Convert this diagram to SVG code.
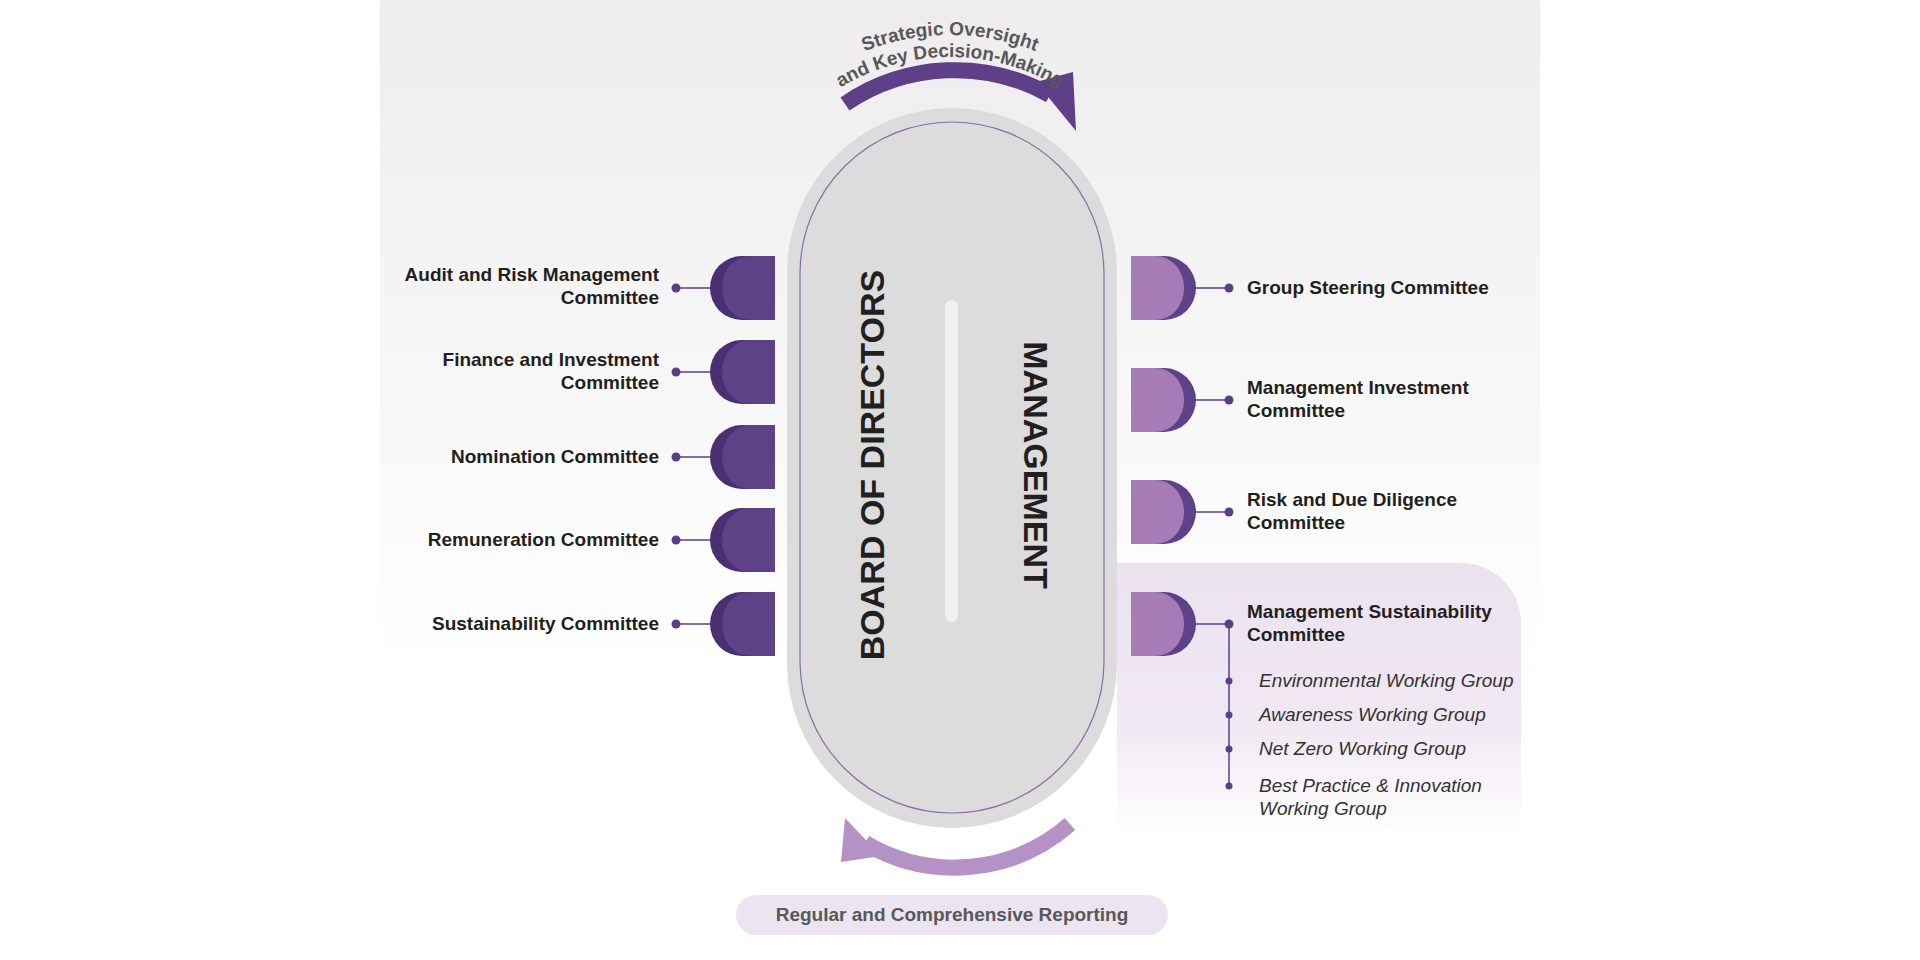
<svg xmlns="http://www.w3.org/2000/svg" width="1920" height="960" viewBox="0 0 1920 960">
<defs>
<linearGradient id="bg" x1="0" y1="0" x2="0" y2="1"><stop offset="0" stop-color="#eeecec"/><stop offset="1" stop-color="#ffffff"/></linearGradient>
<linearGradient id="sub" x1="0" y1="0" x2="0" y2="1"><stop offset="0" stop-color="#ebe2f0"/><stop offset="0.6" stop-color="#f0e8f3"/><stop offset="1" stop-color="#ffffff"/></linearGradient>
<path id="arc1" d="M 717,268 A 233,233 0 0 1 1183,268"/>
<path id="arc2" d="M 739,268 A 211,211 0 0 1 1161,268"/>
<style>
.l{font-family:"Liberation Sans",Arial,sans-serif;font-weight:bold;font-size:19px;fill:#231f20}
.s{font-family:"Liberation Sans",Arial,sans-serif;font-style:italic;font-size:19px;fill:#333}
.g{font-family:"Liberation Sans",Arial,sans-serif;font-weight:bold;font-size:19px;fill:#58585a}
.big{font-family:"Liberation Sans",Arial,sans-serif;font-weight:bold;font-size:34px;fill:#231f20}
.ln{stroke:#5b3f86;stroke-width:1.5}
.dt{fill:#5b3f86}
</style>
</defs>
<rect x="380" y="0" width="1160" height="670" fill="url(#bg)"/>
<path d="M1117,563 H1461 A60,60 0 0 1 1521,623 V833 H1117 Z" fill="url(#sub)"/>
<g id="table">
<rect x="787" y="108" width="330" height="720" rx="165" fill="#dcdcdc"/>
<rect x="800" y="122" width="304" height="691" rx="152" fill="#dcdcdc" stroke="#8e6ca3" stroke-width="1.2"/>
<rect x="945" y="300" width="13" height="322" rx="6.5" fill="#f2f0f0"/>
<text class="big" transform="translate(884,465) rotate(-90)" text-anchor="middle">BOARD OF DIRECTORS</text>
<text class="big" transform="translate(1024,465) rotate(90)" text-anchor="middle">MANAGEMENT</text>
</g>
<g id="top-arrow">
<path d="M 845,104 A 195,195 0 0 1 1050,95" fill="none" stroke="#5e3f88" stroke-width="16"/>
<path d="M 1036,82 L 1073,72 L 1076,131 Z" fill="#5e3f88"/>
<text class="g"><textPath href="#arc1" startOffset="50%" text-anchor="middle">Strategic Oversight</textPath></text>
<text class="g"><textPath href="#arc2" startOffset="50%" text-anchor="middle">and Key Decision-Making</textPath></text>
</g>
<g id="bottom-arrow">
<path d="M 1070,824 A 175,175 0 0 1 865,843" fill="none" stroke="#b592c5" stroke-width="16"/>
<path d="M 881,856 L 841,862 L 845,818 Z" fill="#b592c5"/>
</g>
<g id="reporting">
<rect x="736" y="895" width="432" height="40" rx="20" fill="#ece4f0"/>
<text class="g" x="952" y="921" text-anchor="middle">Regular and Comprehensive Reporting</text>
</g>
<g id="connectors">
<line class="ln" x1="676" y1="288" x2="715" y2="288"/><circle class="dt" cx="676" cy="288" r="4.5"/>
<line class="ln" x1="676" y1="372" x2="715" y2="372"/><circle class="dt" cx="676" cy="372" r="4.5"/>
<line class="ln" x1="676" y1="457" x2="715" y2="457"/><circle class="dt" cx="676" cy="457" r="4.5"/>
<line class="ln" x1="676" y1="540" x2="715" y2="540"/><circle class="dt" cx="676" cy="540" r="4.5"/>
<line class="ln" x1="676" y1="624" x2="715" y2="624"/><circle class="dt" cx="676" cy="624" r="4.5"/>
<line class="ln" x1="1190" y1="288" x2="1229" y2="288"/><circle class="dt" cx="1229" cy="288" r="4.5"/>
<line class="ln" x1="1190" y1="400" x2="1229" y2="400"/><circle class="dt" cx="1229" cy="400" r="4.5"/>
<line class="ln" x1="1190" y1="512" x2="1229" y2="512"/><circle class="dt" cx="1229" cy="512" r="4.5"/>
<line class="ln" x1="1190" y1="624" x2="1229" y2="624"/><circle class="dt" cx="1229" cy="624" r="4.5"/>
<line class="ln" x1="1229" y1="624" x2="1229" y2="786"/>
<circle class="dt" cx="1229" cy="681" r="3.5"/><circle class="dt" cx="1229" cy="715" r="3.5"/><circle class="dt" cx="1229" cy="749" r="3.5"/><circle class="dt" cx="1229" cy="786" r="3.5"/>
</g>
<g id="left-tabs">
<g id="t-audit"><path d="M775,256 H742 A32,32 0 0 0 742,320 H775 Z" fill="#4a2f72"/><path d="M775,256 H750 A28,32 0 0 0 750,320 H775 Z" fill="#5e4287"/></g>
<g id="t-fin"><path d="M775,340 H742 A32,32 0 0 0 742,404 H775 Z" fill="#4a2f72"/><path d="M775,340 H750 A28,32 0 0 0 750,404 H775 Z" fill="#5e4287"/></g>
<g id="t-nom"><path d="M775,425 H742 A32,32 0 0 0 742,489 H775 Z" fill="#4a2f72"/><path d="M775,425 H750 A28,32 0 0 0 750,489 H775 Z" fill="#5e4287"/></g>
<g id="t-rem"><path d="M775,508 H742 A32,32 0 0 0 742,572 H775 Z" fill="#4a2f72"/><path d="M775,508 H750 A28,32 0 0 0 750,572 H775 Z" fill="#5e4287"/></g>
<g id="t-sus"><path d="M775,592 H742 A32,32 0 0 0 742,656 H775 Z" fill="#4a2f72"/><path d="M775,592 H750 A28,32 0 0 0 750,656 H775 Z" fill="#5e4287"/></g>
</g>
<g id="right-tabs">
<g id="t-gsc"><path d="M1131,256 H1164 A32,32 0 0 1 1164,320 H1131 Z" fill="#5e4287"/><path d="M1131,256 H1156 A28,32 0 0 1 1156,320 H1131 Z" fill="#a77bb6"/></g>
<g id="t-mic"><path d="M1131,368 H1164 A32,32 0 0 1 1164,432 H1131 Z" fill="#5e4287"/><path d="M1131,368 H1156 A28,32 0 0 1 1156,432 H1131 Z" fill="#a77bb6"/></g>
<g id="t-rdd"><path d="M1131,480 H1164 A32,32 0 0 1 1164,544 H1131 Z" fill="#5e4287"/><path d="M1131,480 H1156 A28,32 0 0 1 1156,544 H1131 Z" fill="#a77bb6"/></g>
<g id="t-msc"><path d="M1131,592 H1164 A32,32 0 0 1 1164,656 H1131 Z" fill="#5e4287"/><path d="M1131,592 H1156 A28,32 0 0 1 1156,656 H1131 Z" fill="#a77bb6"/></g>
</g>
<g id="left-labels" text-anchor="end">
<text class="l" x="659" y="281">Audit and Risk Management</text><text class="l" x="659" y="304">Committee</text>
<text class="l" x="659" y="366">Finance and Investment</text><text class="l" x="659" y="389">Committee</text>
<text class="l" x="659" y="463">Nomination Committee</text>
<text class="l" x="659" y="546">Remuneration Committee</text>
<text class="l" x="659" y="630">Sustainability Committee</text>
</g>
<g id="right-labels">
<text class="l" x="1247" y="294">Group Steering Committee</text>
<text class="l" x="1247" y="394">Management Investment</text><text class="l" x="1247" y="417">Committee</text>
<text class="l" x="1247" y="506">Risk and Due Diligence</text><text class="l" x="1247" y="529">Committee</text>
<text class="l" x="1247" y="618">Management Sustainability</text><text class="l" x="1247" y="641">Committee</text>
<text class="s" x="1259" y="687">Environmental Working Group</text>
<text class="s" x="1259" y="721">Awareness Working Group</text>
<text class="s" x="1259" y="755">Net Zero Working Group</text>
<text class="s" x="1259" y="792">Best Practice &amp; Innovation</text>
<text class="s" x="1259" y="815">Working Group</text>
</g>
</svg>
